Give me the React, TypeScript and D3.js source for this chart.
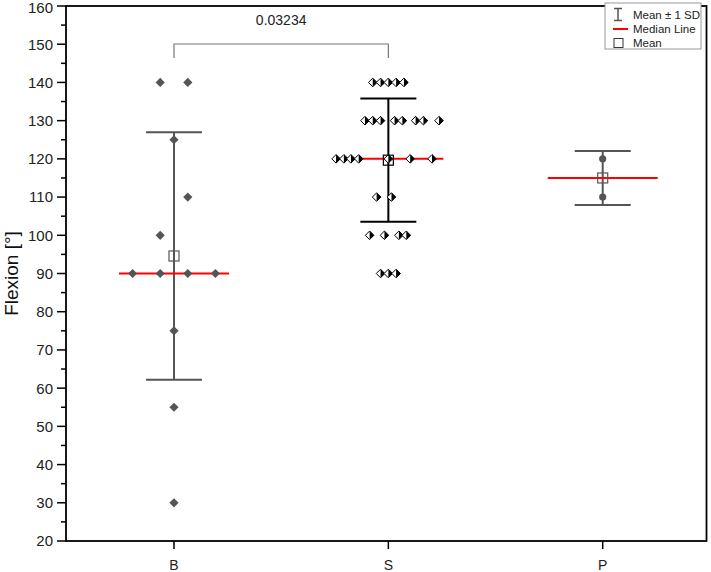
import React, { useEffect, useRef } from 'react';
import * as d3 from 'd3';

const groups = ['B', 'S', 'P'];

// flexion values, with the horizontal slot of each point
const bValues = [140, 140, 125, 110, 100, 90, 90, 90, 90, 75, 55, 30];
const bSlots = [-1, 1, 0, 1, -1, -3, -1, 1, 3, 0, 0, 0];

const sValues = [
  140, 140, 140, 140, 140,
  130, 130, 130, 130, 130, 130, 130, 130,
  120, 120, 120, 120, 120, 120, 120,
  110, 110,
  100, 100, 100, 100,
  90, 90, 90,
];
const sSlots = [
  -2, -1, 0, 1, 2,
  -3, -2, -1, 0.8, 1.8, 3.5, 4.5, 6.5,
  -6.7, -5.7, -4.8, -3.8, 0, 2.8, 5.6,
  -1.5, 0.4,
  -2.4, -0.5, 1.35, 2.3,
  -1, 0, 1,
];

const pValues = [120, 110];
const pSlots = [0, 0];

const yTickValues = [20, 30, 40, 50, 60, 70, 80, 90, 100, 110, 120, 130, 140, 150, 160];
const yMinorValues = [25, 35, 45, 55, 65, 75, 85, 95, 105, 115, 125, 135, 145, 155];
const pValueLabel = '0.03234';
const legendLabels = ['Mean ± 1 SD', 'Median Line', 'Mean'];

const FONT = "'Liberation Sans', Arial, sans-serif";

const App = () => {
  const ref = useRef<SVGSVGElement>(null);

  useEffect(() => {
    const svg = d3.select(ref.current);
    svg.selectAll('*').remove();

    const width = 711;
    const height = 572;
    const margin = { top: 6, right: 4.5, bottom: 31, left: 66 };
    const left = margin.left;
    const right = width - margin.right;
    const top = margin.top;
    const bottom = height - margin.bottom;

    const y = d3.scaleLinear().domain([20, 160]).range([bottom, top]);
    const x = d3.scalePoint().domain(groups).range([174, 602.7]);

    const series = [
      { key: 'B', values: bValues, slots: bSlots, slotW: 13.8, color: '#555555', shape: 'diamond' },
      { key: 'S', values: sValues, slots: sSlots, slotW: 7.8, color: '#000000', shape: 'half' },
      { key: 'P', values: pValues, slots: pSlots, slotW: 0, color: '#555555', shape: 'circle' },
    ];

    // error bars
    series.forEach(s => {
      const cx = x(s.key)!;
      const m = d3.mean(s.values)!;
      const sd = d3.deviation(s.values)!;
      const g = svg.append('g').attr('stroke', s.color).attr('stroke-width', 2).attr('fill', 'none');
      g.append('line').attr('x1', cx).attr('x2', cx).attr('y1', y(m + sd)).attr('y2', y(m - sd));
      [m + sd, m - sd].forEach(v => {
        g.append('line').attr('x1', cx - 28).attr('x2', cx + 28).attr('y1', y(v)).attr('y2', y(v));
      });
    });

    // median lines
    series.forEach(s => {
      const cx = x(s.key)!;
      const md = d3.median(s.values)!;
      svg.append('line')
        .attr('x1', cx - 55).attr('x2', cx + 55)
        .attr('y1', y(md)).attr('y2', y(md))
        .attr('stroke', '#ff0000').attr('stroke-width', 2);
    });

    // points
    series.forEach(s => {
      const cx = x(s.key)!;
      const pts = s.values.map((v, i) => ({ v, px: cx + s.slots[i] * s.slotW, py: y(v) }));
      const g = svg.append('g');
      if (s.shape === 'diamond') {
        const r = 4.6;
        g.selectAll('path').data(pts).enter().append('path')
          .attr('d', d => `M${d.px},${d.py - r}L${d.px + r},${d.py}L${d.px},${d.py + r}L${d.px - r},${d.py}Z`)
          .attr('fill', s.color);
      } else if (s.shape === 'half') {
        const r = 4.3;
        const pg = g.selectAll('g').data(pts).enter().append('g');
        pg.append('path')
          .attr('d', d => `M${d.px},${d.py - r}L${d.px + r},${d.py}L${d.px},${d.py + r}L${d.px - r},${d.py}Z`)
          .attr('fill', '#ffffff').attr('stroke', '#000').attr('stroke-width', 1);
        pg.append('path')
          .attr('d', d => `M${d.px},${d.py - r}L${d.px + r},${d.py}L${d.px},${d.py + r}Z`)
          .attr('fill', '#000');
      } else {
        g.selectAll('circle').data(pts).enter().append('circle')
          .attr('cx', d => d.px).attr('cy', d => d.py).attr('r', 3.6)
          .attr('fill', s.color);
      }
    });

    // mean squares
    series.forEach(s => {
      const cx = x(s.key)!;
      const m = d3.mean(s.values)!;
      svg.append('rect')
        .attr('x', cx - 5).attr('y', y(m) - 5)
        .attr('width', 10).attr('height', 10)
        .attr('fill', 'none').attr('stroke', s.color).attr('stroke-width', 1.2);
    });

    // frame
    svg.append('rect')
      .attr('x', left).attr('y', top)
      .attr('width', right - left).attr('height', bottom - top)
      .attr('fill', 'none').attr('stroke', '#000').attr('stroke-width', 1.8);

    // y axis ticks
    const yAxis = svg.append('g').attr('font-family', FONT).attr('font-size', 15).attr('fill', '#222');
    yTickValues.forEach(v => {
      yAxis.append('line').attr('x1', left - 9).attr('x2', left).attr('y1', y(v)).attr('y2', y(v))
        .attr('stroke', '#000').attr('stroke-width', 1.5);
      // keep the top label inside the page
      const yy = Math.max(y(v), 8);
      yAxis.append('text').attr('x', left - 13).attr('y', yy).attr('dy', '0.36em')
        .attr('text-anchor', 'end').text(v);
    });
    yMinorValues.forEach(v => {
      yAxis.append('line').attr('x1', left - 5).attr('x2', left).attr('y1', y(v)).attr('y2', y(v))
        .attr('stroke', '#000').attr('stroke-width', 1.5);
    });

    // x axis ticks
    const xAxis = svg.append('g').attr('font-family', FONT).attr('font-size', 14).attr('fill', '#222');
    groups.forEach(gk => {
      const cx = x(gk)!;
      xAxis.append('line').attr('x1', cx).attr('x2', cx).attr('y1', bottom).attr('y2', bottom + 8)
        .attr('stroke', '#000').attr('stroke-width', 1.5);
      xAxis.append('text').attr('x', cx).attr('y', bottom + 29).attr('text-anchor', 'middle').text(gk);
    });

    // y title
    svg.append('text')
      .attr('transform', `translate(18,${(top + bottom) / 2}) rotate(-90)`)
      .attr('text-anchor', 'middle')
      .attr('font-family', FONT).attr('font-size', 19).attr('fill', '#111')
      .text('Flexion [°]');

    // significance bracket B vs S
    const bx = x('B')!;
    const sx = x('S')!;
    svg.append('path')
      .attr('d', `M${bx},58V44H${sx}V58`)
      .attr('fill', 'none').attr('stroke', '#777').attr('stroke-width', 1.2);
    svg.append('text')
      .attr('x', (bx + sx) / 2).attr('y', 25)
      .attr('text-anchor', 'middle')
      .attr('font-family', FONT).attr('font-size', 14).attr('fill', '#222')
      .text(pValueLabel);

    // legend
    const lg = svg.append('g').attr('transform', 'translate(605,3)');
    lg.append('rect').attr('width', 96).attr('height', 46)
      .attr('fill', '#fff').attr('stroke', '#999').attr('stroke-width', 1);
    const rows = [11.5, 26, 40];
    const eb = lg.append('g').attr('stroke', '#555').attr('stroke-width', 1.5).attr('fill', 'none');
    eb.append('path').attr('d', `M9,${rows[0] - 6}H17M13,${rows[0] - 6}V${rows[0] + 6}M9,${rows[0] + 6}H17`);
    lg.append('line').attr('x1', 8).attr('x2', 23).attr('y1', rows[1]).attr('y2', rows[1])
      .attr('stroke', '#ff0000').attr('stroke-width', 2);
    lg.append('rect').attr('x', 9).attr('y', rows[2] - 4.5).attr('width', 9).attr('height', 9)
      .attr('fill', 'none').attr('stroke', '#333').attr('stroke-width', 1);
    legendLabels.forEach((t, i) => {
      lg.append('text').attr('x', 28).attr('y', rows[i]).attr('dy', '0.36em')
        .attr('font-family', FONT).attr('font-size', 11.5).attr('fill', '#222')
        .text(t);
    });
  }, []);

  return (
    <svg
      ref={ref}
      width={711}
      height={572}
      style={{ position: 'absolute', left: 0, top: 0, background: '#fff' }}
    />
  );
};

export default App;
